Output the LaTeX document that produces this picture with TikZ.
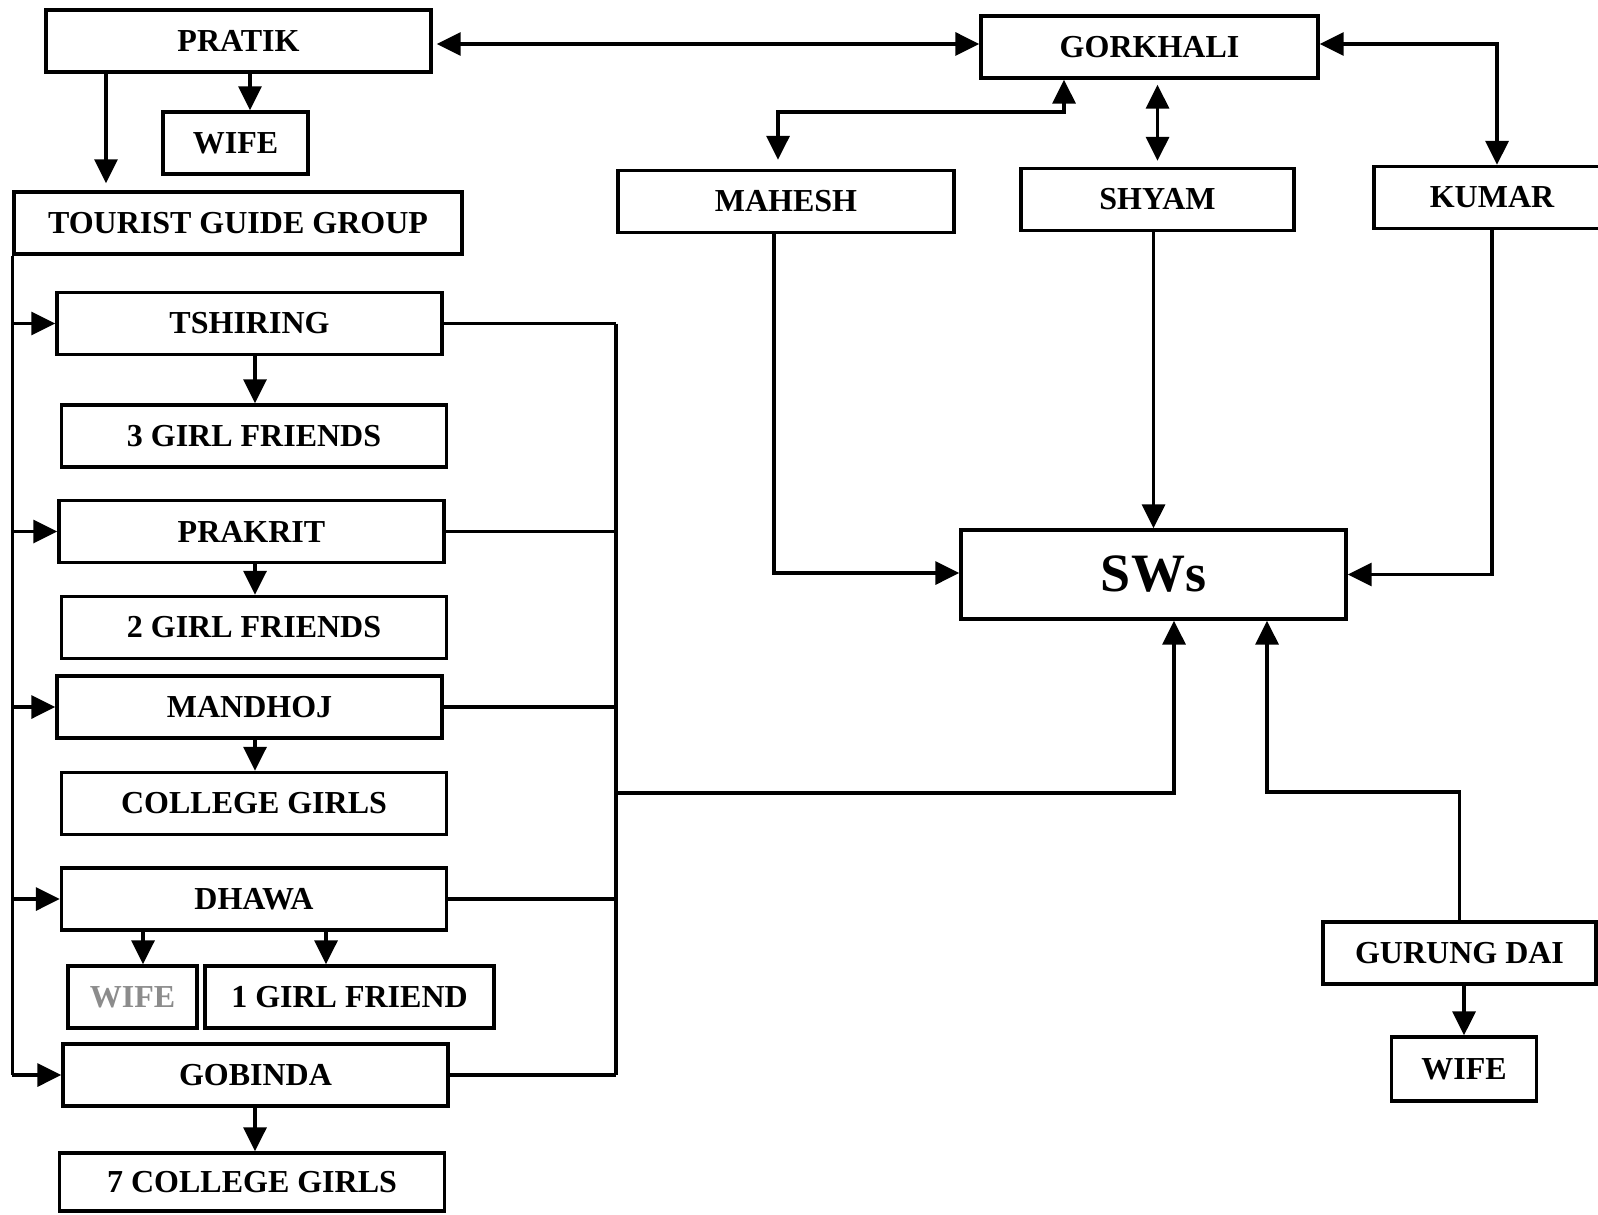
\documentclass[tikz,border=0pt]{standalone}
\usepackage{fontspec}
\setmainfont{Liberation Serif}
\usetikzlibrary{arrows.meta}
\definecolor{wifegray}{RGB}{140, 140, 140}

\begin{document}
\begin{tikzpicture}[x=0.5pt, y=-0.5pt,
    box/.style={draw, line width=1.7pt, inner sep=0pt, minimum height=31pt,
      font=\fontsize{16}{19}\selectfont\bfseries},
    link/.style={line width=1.7pt},
    arr/.style={link, -{Triangle[length=12pt,width=11.5pt]}},
    arrs/.style={link, {Triangle[length=12pt,width=11.5pt]}-{Triangle[length=12pt,width=11.5pt]}}]
            \useasboundingbox (0,0) rectangle (1598,1214);
            \node[box, minimum width=192.5pt] (pratik) at (238.5,41) {PRATIK};
            \node[box, minimum width=72.5pt] (pwife) at (235.5,143) {WIFE};
            \node[box, minimum width=224pt] (tgg) at (238,223) {TOURIST GUIDE GROUP};
            \foreach \n/\x/\y/\t in {tshiring/249.5/323.5/TSHIRING, gf3/254/436/3 GIRL FRIENDS,
                prakrit/251.5/531.5/PRAKRIT, gf2/254/627.5/2 GIRL FRIENDS,
                mandhoj/249.5/707/MANDHOJ, colgirls/254/803.5/COLLEGE GIRLS,
                dhawa/254/899/DHAWA, gobinda/255.5/1075/GOBINDA}
              \node[box, minimum width=192.5pt] (\n) at (\x,\y) {\t};
            \node[box, minimum width=192.5pt, minimum height=29pt] (cg7) at (252,1182) {7 COLLEGE GIRLS};
            \node[box, minimum width=64.5pt, text=wifegray] (dwife) at (132.5,997) {WIFE};
            \node[box, minimum width=144.5pt] (gf1) at (349.5,997) {1 GIRL FRIEND};
            \node[box, minimum width=168.5pt] (gorkhali) at (1149.5,47) {GORKHALI};
            \node[box, minimum width=168pt] (mahesh) at (786,201.5) {MAHESH};
            \node[box, minimum width=136.5pt] (shyam) at (1157.5,199.5) {SHYAM};
            \node[box, minimum width=118pt] (kumar) at (1492,197.5) {KUMAR};
            \node[box, minimum width=192.5pt, minimum height=44.5pt,
              font=\fontsize{27}{32}\selectfont\bfseries] (sws) at (1153.5,574.5) {SWs};
            \node[box, minimum width=136.5pt] (gurung) at (1459.5,953) {GURUNG DAI};
            \node[box, minimum width=72.5pt, minimum height=32pt] (gwife) at (1464,1069) {WIFE};

            \coordinate (ypg) at (0,44);
            \coordinate (xk) at (1497,0);
            \coordinate (xpw) at (250,0);
            \coordinate (xtg) at (106,0);
            \coordinate (xc) at (255,0);
            \coordinate (xdw) at (143,0);
            \coordinate (xdg) at (326,0);
            \coordinate (rbus) at (616,0);
            \coordinate (jn) at (616,793);
            \coordinate (xs1) at (1174,0);
            \coordinate (xs2) at (1267,792);
            \coordinate (xm) at (774,573);
            \coordinate (gm1) at (1064,112);
            \coordinate (gm2) at (778,112);

            \draw[arrs, shorten <=2pt] (pratik.east |- ypg) -- (gorkhali.west |- ypg);
            \draw[arr] (pratik.south -| xpw) -- (pwife.north -| xpw);
            \draw[arr, shorten >=3.5pt] (pratik.south -| xtg) -- (tgg.north -| xtg);
            \draw[link] (tgg.south west) -- (tgg.south west |- gobinda.west);
            \foreach \n in {tshiring, prakrit, mandhoj, dhawa, gobinda}
              \draw[arr] (tgg.south west |- \n.west) -- (\n.west);
            \foreach \a/\b in {tshiring/gf3, prakrit/gf2, mandhoj/colgirls, gobinda/cg7}
              \draw[arr] (\a.south -| xc) -- (\b.north -| xc);
            \draw[arr] (dhawa.south -| xdw) -- (dwife.north -| xdw);
            \draw[arr] (dhawa.south -| xdg) -- (gf1.north -| xdg);
            \foreach \n in {tshiring, prakrit, mandhoj, dhawa, gobinda}
              \draw[link] (\n.east) -- (\n.east -| rbus);
            \draw[link] (tshiring.east -| rbus) -- (gobinda.east -| rbus);
            \draw[arr] (jn) -| (sws.south -| xs1);
            \draw[arr] (gurung.north) |- (xs2) -- (sws.south -| xs2);
            \draw[arr] (gurung.south -| gwife.north) -- (gwife.north);
            \draw[arr] (mahesh.south -| xm) |- (sws.west |- xm);
            \draw[arr] (shyam.south -| sws.north) -- (sws.north);
            \draw[arr] (kumar.south) |- (sws.east);
            \draw[arrs, shorten >=4.5pt] (gorkhali.south -| gm1) -- (gm1) -- (gm2) -- (mahesh.north -| gm2);
            \draw[arrs, shorten <=2.5pt, shorten >=3pt] (shyam.north |- gorkhali.south) -- (shyam.north);
            \draw[arrs] (gorkhali.east |- ypg) -| (kumar.north -| xk);
          \end{tikzpicture}
\end{document}
